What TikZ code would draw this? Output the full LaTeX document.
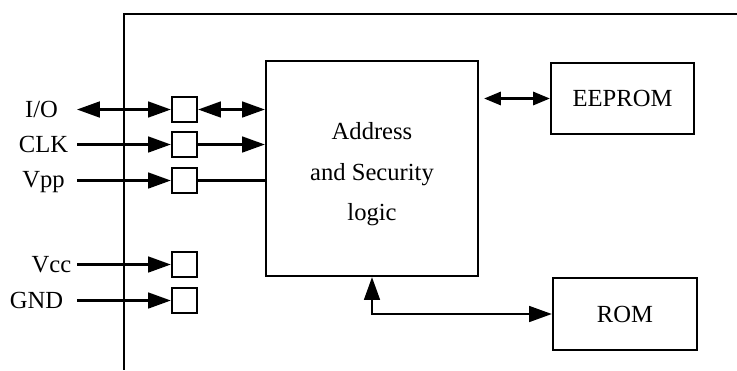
\documentclass[tikz,border=0pt]{standalone}
\usepackage{fontspec}
\setmainfont{Liberation Serif}
\usetikzlibrary{arrows.meta}

\tikzset{
  box/.style={draw, line width=1.3pt, inner sep=0pt, font=\fontsize{14}{23}\selectfont},
  pin/.style={draw, line width=1.3pt, minimum size=0.5cm, inner sep=0pt},
  pinname/.style={anchor=base, inner sep=0pt, font=\fontsize{14}{17}\selectfont},
  small/.style={>={Triangle[length=9.5pt,width=7.5pt]}}
}

\begin{document}
\begin{tikzpicture}[x=0.02cm, y=-0.02cm, line width=1.3pt, >={Triangle[length=13pt,width=9pt]}]

\useasboundingbox (0,0) rectangle (737,370);

% card edge
\draw (737,14)--(124,14)--(124,370);

% blocks
\node[box, minimum width=4.24cm, minimum height=4.3cm] (logic) at (372,168.5) {};
\node[box, draw=none, align=center] (logictext) at ([yshift=-0.12cm]logic.center) {Address\\and Security\\logic};
\node[box, minimum width=2.86cm, minimum height=1.42cm] (eeprom) at (622.5,98.5) {EEPROM};
\node[box, minimum width=2.88cm, minimum height=1.44cm] (rom) at (625,314) {ROM};

\draw[<->, small] ([xshift=0.1cm]logic.east |- eeprom.west)--(eeprom.west);
\draw[<->] (logic.south)|-(rom.west);

% contacts
\node[pin] (pio) at (184.5,109.5) {};
\node[pin] (pclk) at (184.5,144.5) {};
\node[pin] (pvpp) at (184.5,180.5) {};
\node[pin] (pvcc) at (184.5,264.5) {};
\node[pin] (pgnd) at (184.5,300.5) {};

\node[pinname] (lio) at (41.5,117) {I/O};
\node[pinname] (lclk) at (43.5,152) {CLK};
\node[pinname] (lvpp) at (43.5,187) {Vpp};
\node[pinname] (lvcc) at (51.5,272) {Vcc};
\node[pinname] (lgnd) at (36.5,308) {GND};

\coordinate (wire) at (77,0);

\draw[<->] (wire |- pio)--(pio.west);
\draw[<->] (pio.east)--(logic.west |- pio);

\draw[->] (wire |- pclk)--(pclk.west);
\draw[->] (pclk.east)--(logic.west |- pclk);

\draw[->] (wire |- pvpp)--(pvpp.west);
\draw (pvpp.east)--(logic.west |- pvpp);

\draw[->] (wire |- pvcc)--(pvcc.west);
\draw[->] (wire |- pgnd)--(pgnd.west);

\end{tikzpicture}
\end{document}
